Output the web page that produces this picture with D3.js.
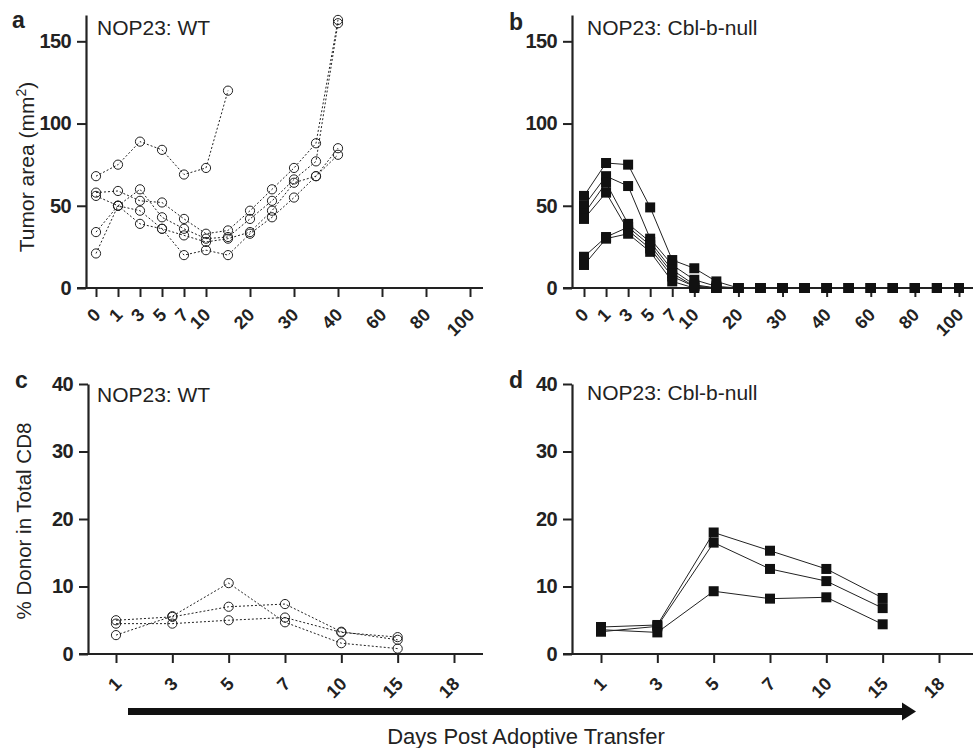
<!DOCTYPE html>
<html>
<head>
<meta charset="utf-8">
<script src="https://cdn.jsdelivr.net/npm/d3@7"></script>
<style>
body { margin: 0; background: #fff; }
text { font-family: "Liberation Sans", Arial, Helvetica, sans-serif; fill: #222; }
</style>
</head>
<body>
<script>
// tumour area panels (a, b): categorical day axis
var tumorDays = ["0", "1", "3", "5", "7", "10", "15", "20", "25", "30", "35", "40", "50", "60", "70", "80", "90", "100"];
var tumorTicks = ["0", "1", "3", "5", "7", "10", "20", "30", "40", "60", "80", "100"];
var tumorYTicks = [0, 50, 100, 150];

var wtTumorDays = ["0", "1", "3", "5", "7", "10", "15", "20", "25", "30", "35", "40"];
var wtTumor = [
    [58, 59, 53, 52, 42, 33, 35, 47, 60, 73, 88, 163],
    [56, 50, 60, 43, 36, 30, 31, 42, 53, 66, 77, 161],
    [34, 50, 47, 36, 32, 28, 30, 34, 47, 64, 68, 85],
    [21, 50, 39, 36, 20, 23, 20, 33, 43, 55, 68, 81],
    [68, 75, 89, 84, 69, 73, 120]
];

var cblTumor = [
    [56, 76, 75, 49, 17, 12, 4, 0, 0, 0, 0, 0, 0, 0, 0, 0, 0, 0],
    [50, 68, 62, 30, 14, 5, 1, 0, 0, 0, 0, 0, 0, 0, 0, 0, 0, 0],
    [45, 64, 39, 28, 11, 2, 0, 0, 0, 0, 0, 0, 0, 0, 0, 0, 0, 0],
    [42, 58, 35, 24, 7, 1, 0, 0, 0, 0, 0, 0, 0, 0, 0, 0, 0, 0],
    [19, 31, 37, 26, 9, 1, 0, 0, 0, 0, 0, 0, 0, 0, 0, 0, 0, 0],
    [14, 30, 33, 22, 4, 0, 0, 0, 0, 0, 0, 0, 0, 0, 0, 0, 0, 0]
];

// donor CD8 panels (c, d)
var cd8Days = ["1", "3", "5", "7", "10", "15", "18"];
var cd8YTicks = [0, 10, 20, 30, 40];

var wtCd8 = [
    [2.8, 5.6, 10.5, 4.7, 1.6, 0.8],
    [5.0, 5.5, 7.0, 7.4, 3.3, 2.1],
    [4.5, 4.5, 5.0, 5.4, 3.2, 2.5]
];

var cblCd8 = [
    [4.0, 4.3, 18.0, 15.3, 12.6, 8.3],
    [3.3, 4.1, 16.5, 12.6, 10.8, 6.8],
    [3.6, 3.2, 9.3, 8.2, 8.4, 4.4]
];

var svg = d3.select("body").append("svg")
    .attr("width", 973)
    .attr("height", 748);

function drawPanel(p) {
    var x = d3.scalePoint().domain(p.days).range(p.xRange);
    var y = d3.scaleLinear().domain(p.yDomain).range(p.yRange);
    var g = svg.append("g");

    // y axis
    var ya = g.append("g")
        .attr("transform", "translate(" + p.axisX + ",0)")
        .call(d3.axisLeft(y).tickValues(p.yTicks).tickSize(9).tickSizeOuter(0));
    ya.select(".domain").attr("stroke", "#222").attr("stroke-width", 2.2);
    ya.selectAll(".tick line").attr("stroke", "#222").attr("stroke-width", 2);
    ya.selectAll(".tick text")
        .attr("x", -15)
        .style("font-size", "20px")
        .style("font-weight", "bold")
        .style("letter-spacing", "-0.6px")
        .style("font-family", "'Liberation Sans', Arial, sans-serif")
        .attr("fill", "#222");

    // x axis
    var xa = g.append("g")
        .attr("transform", "translate(0," + y(0) + ")")
        .call(d3.axisBottom(x).tickValues(p.xTicks).tickSize(9).tickSizeOuter(0));
    xa.select(".domain").remove();
    xa.selectAll(".tick line").attr("stroke", "#222").attr("stroke-width", 2);
    xa.selectAll(".tick text")
        .attr("x", 0).attr("y", 0).attr("dy", 0)
        .attr("text-anchor", "end")
        .attr("transform", "translate(" + p.lblDx + "," + p.lblDy + ") rotate(-45)")
        .style("font-size", "18px")
        .style("font-weight", "bold")
        .style("font-family", "'Liberation Sans', Arial, sans-serif")
        .attr("fill", "#222");
    g.append("line")
        .attr("x1", p.axisX - 9).attr("x2", p.xEnd)
        .attr("y1", y(0)).attr("y2", y(0))
        .attr("stroke", "#222").attr("stroke-width", 2.2);

    var line = d3.line()
        .x(function(d) { return x(d[0]); })
        .y(function(d) { return y(d[1]); });

    var series = p.values.map(function(vals) {
        return vals.map(function(v, i) { return [p.seriesDays[i], v]; });
    });

    g.append("g").selectAll("path")
        .data(series)
        .enter().append("path")
        .attr("d", line)
        .attr("fill", "none")
        .attr("stroke", "#222")
        .attr("stroke-width", 1)
        .attr("stroke-dasharray", p.open ? "2,2" : null);

    var pts = [];
    series.forEach(function(s) { s.forEach(function(d) { pts.push(d); }); });

    if (p.open) {
        g.append("g").selectAll("circle")
            .data(pts)
            .enter().append("circle")
            .attr("cx", function(d) { return x(d[0]); })
            .attr("cy", function(d) { return y(d[1]); })
            .attr("r", 4.6)
            .attr("fill", "none")
            .attr("stroke", "#222")
            .attr("stroke-width", 1);
    } else {
        g.append("g").selectAll("rect")
            .data(pts)
            .enter().append("rect")
            .attr("x", function(d) { return x(d[0]) - 5; })
            .attr("y", function(d) { return y(d[1]) - 5; })
            .attr("width", 10)
            .attr("height", 10)
            .attr("fill", "#111");
    }

    g.append("text")
        .attr("x", p.letter[1]).attr("y", p.letter[2])
        .style("font-size", "23px").style("font-weight", "bold")
        .text(p.letter[0]);

    g.append("text")
        .attr("x", p.title[1]).attr("y", p.title[2])
        .style("font-size", "21px")
        .text(p.title[0]);
}

drawPanel({
    days: tumorDays, xTicks: tumorTicks, xRange: [96, 470],
    yDomain: [0, 166], yRange: [288, 15], yTicks: tumorYTicks,
    axisX: 86, xEnd: 483, lblDx: 5, lblDy: 28,
    seriesDays: wtTumorDays, values: wtTumor, open: true,
    letter: ["a", 12, 28], title: ["NOP23: WT", 97, 35]
});

drawPanel({
    days: tumorDays, xTicks: tumorTicks, xRange: [584, 959],
    yDomain: [0, 166], yRange: [288, 15], yTicks: tumorYTicks,
    axisX: 572, xEnd: 973, lblDx: 5, lblDy: 28,
    seriesDays: tumorDays, values: cblTumor, open: false,
    letter: ["b", 509, 30], title: ["NOP23: Cbl-b-null", 587, 35]
});

drawPanel({
    days: cd8Days, xTicks: cd8Days, xRange: [116, 454],
    yDomain: [0, 40], yRange: [654, 384], yTicks: cd8YTicks,
    axisX: 88, xEnd: 483, lblDx: 6, lblDy: 31,
    seriesDays: cd8Days, values: wtCd8, open: true,
    letter: ["c", 15, 388], title: ["NOP23: WT", 97, 402]
});

drawPanel({
    days: cd8Days, xTicks: cd8Days, xRange: [601, 939],
    yDomain: [0, 40], yRange: [654, 384], yTicks: cd8YTicks,
    axisX: 572, xEnd: 973, lblDx: 6, lblDy: 31,
    seriesDays: cd8Days, values: cblCd8, open: false,
    letter: ["d", 509, 388], title: ["NOP23: Cbl-b-null", 587, 400]
});

// y axis titles
var t1 = svg.append("text")
    .attr("transform", "translate(34,167) rotate(-90)")
    .attr("text-anchor", "middle")
    .style("font-size", "21px");
t1.append("tspan").text("Tumor area (mm");
t1.append("tspan").attr("dy", -8).style("font-size", "14px").text("2");
t1.append("tspan").attr("dy", 8).text(")");

svg.append("text")
    .attr("transform", "translate(31,521) rotate(-90)")
    .attr("text-anchor", "middle")
    .style("font-size", "20.5px")
    .text("% Donor in Total CD8");

// time arrow and shared x title
svg.append("line")
    .attr("x1", 128).attr("x2", 904)
    .attr("y1", 711.5).attr("y2", 711.5)
    .attr("stroke", "#111").attr("stroke-width", 7);
svg.append("path")
    .attr("d", "M902,702.5 L916,711.5 L902,720.5 Z")
    .attr("fill", "#111");

svg.append("text")
    .attr("x", 526).attr("y", 744)
    .attr("text-anchor", "middle")
    .style("font-size", "22px")
    .text("Days Post Adoptive Transfer");
</script>
</body>
</html>
